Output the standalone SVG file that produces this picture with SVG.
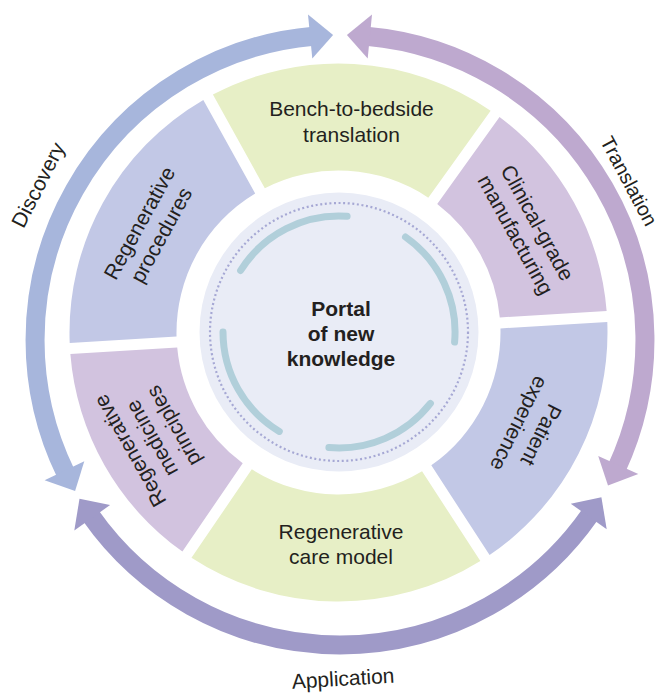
<svg xmlns="http://www.w3.org/2000/svg" width="663" height="694" viewBox="0 0 663 694">
<style>
.lbl{font-family:"Liberation Sans",Arial,sans-serif;font-size:21px;fill:#231f20;text-anchor:middle}
.bold{font-weight:bold}
.band{fill:none;stroke-width:19}
.teal{fill:none;stroke:#b1cfda;stroke-width:7;stroke-linecap:round}
.green{fill:#e7efc6}
.blue{fill:#c2c8e6}
.purple{fill:#d2c3df}
</style>
<rect width="663" height="694" fill="#ffffff"/>
<g id="connectors">
  <g id="discovery">
    <path class="band" stroke="#a7b6dc" d="M65.9,473.7 A305,305 0 0 1 313.4,36.2"/>
    <polygon fill="#a7b6dc" points="333.1,35.1 308.0,14.6 312.3,58.4"/>
    <polygon fill="#a7b6dc" points="75.1,491.1 44.6,480.2 84.3,461.3"/>
    <text class="lbl" transform="translate(38.3,185) rotate(-63)" x="0" y="7">Discovery</text>
  </g>
  <g id="translation">
    <path class="band" stroke="#bea9cf" d="M366.6,36.2 A305,305 0 0 1 616.4,468.9"/>
    <polygon fill="#bea9cf" points="346.9,35.1 372.0,14.6 367.7,58.4"/>
    <polygon fill="#bea9cf" points="608.0,485.5 638.3,474.0 598.2,455.9"/>
    <text class="lbl" style="font-size:20px" transform="translate(629,181) rotate(62)" x="0" y="7">Translation</text>
  </g>
  <g id="application">
    <path class="band" stroke="#9f9ac8" d="M589.8,514.9 A305,305 0 0 1 90.2,514.9"/>
    <polygon fill="#9f9ac8" points="79.5,498.7 74.3,530.6 110.1,505.0"/>
    <polygon fill="#9f9ac8" points="601.4,497.2 606.7,529.2 570.8,503.7"/>
    <text class="lbl" x="343.5" y="685.7" transform="rotate(-3.4 343.5 685.7)">Application</text>
  </g>
</g>
<g id="bench">
  <path class="green" d="M212.90,94.62 A269,269 0 0 1 490.63,110.65 L428.29,197.66 A162,162 0 0 0 264.82,188.23 Z"/>
  <text class="lbl"><tspan x="351.5" y="116">Bench-to-bedside</tspan><tspan x="351.5" y="141.7">translation</tspan></text>
</g>
<g id="clinical">
  <path class="purple" d="M499.53,117.02 A269,269 0 0 1 606.64,311.07 L499.79,317.40 A162,162 0 0 0 437.23,204.06 Z"/>
  <text class="lbl" transform="translate(526.7,228.6) rotate(61.1)"><tspan x="0" y="-5">Clinical-grade</tspan><tspan x="0" y="20">manufacturing</tspan></text>
</g>
<g id="patient">
  <path class="blue" d="M607.30,322.03 A269,269 0 0 1 489.57,555.07 L431.30,465.29 A162,162 0 0 0 500.45,328.40 Z"/>
  <text class="lbl" transform="translate(530.4,429.4) rotate(116.8)"><tspan x="0" y="-5">Patient</tspan><tspan x="0" y="20">experience</tspan></text>
</g>
<g id="care">
  <path class="green" d="M480.36,561.05 A269,269 0 0 1 191.47,557.76 L251.82,469.36 A162,162 0 0 0 422.06,471.29 Z"/>
  <text class="lbl"><tspan x="341" y="539.3">Regenerative</tspan><tspan x="341" y="563.7">care model</tspan></text>
</g>
<g id="principles">
  <path class="purple" d="M182.40,551.58 A269,269 0 0 1 70.36,353.93 L177.21,347.60 A162,162 0 0 0 242.71,463.14 Z"/>
  <text class="lbl" transform="translate(151.5,438.5) rotate(240.45)"><tspan x="0" y="-17.5">Regenerative</tspan><tspan x="0" y="7.5">medicine</tspan><tspan x="0" y="32.5">principles</tspan></text>
</g>
<g id="procedures">
  <path class="blue" d="M69.70,342.97 A269,269 0 0 1 203.32,99.93 L255.19,193.56 A162,162 0 0 0 176.55,336.60 Z"/>
  <text class="lbl" transform="translate(150.1,228.9) rotate(-61.2)"><tspan x="0" y="-5">Regenerative</tspan><tspan x="0" y="20">procedures</tspan></text>
</g>
<g id="portal">
  <circle cx="339" cy="332" r="139.5" fill="#e9ecf6"/>
  <circle cx="339" cy="332" r="129" fill="none" stroke="#a6a8d4" stroke-width="2.2" stroke-dasharray="2 2.6"/>
  <path class="teal" d="M240.6,270.5 A116,116 0 0 1 347.1,216.3"/>
  <path class="teal" d="M405.5,237.0 A116,116 0 0 1 454.6,342.1"/>
  <path class="teal" d="M430.4,403.4 A116,116 0 0 1 328.9,447.6"/>
  <path class="teal" d="M279.3,431.4 A116,116 0 0 1 223,332"/>
  <text class="lbl bold"><tspan x="341" y="316">Portal</tspan><tspan x="341" y="341">of new</tspan><tspan x="341" y="366">knowledge</tspan></text>
</g>
</svg>
